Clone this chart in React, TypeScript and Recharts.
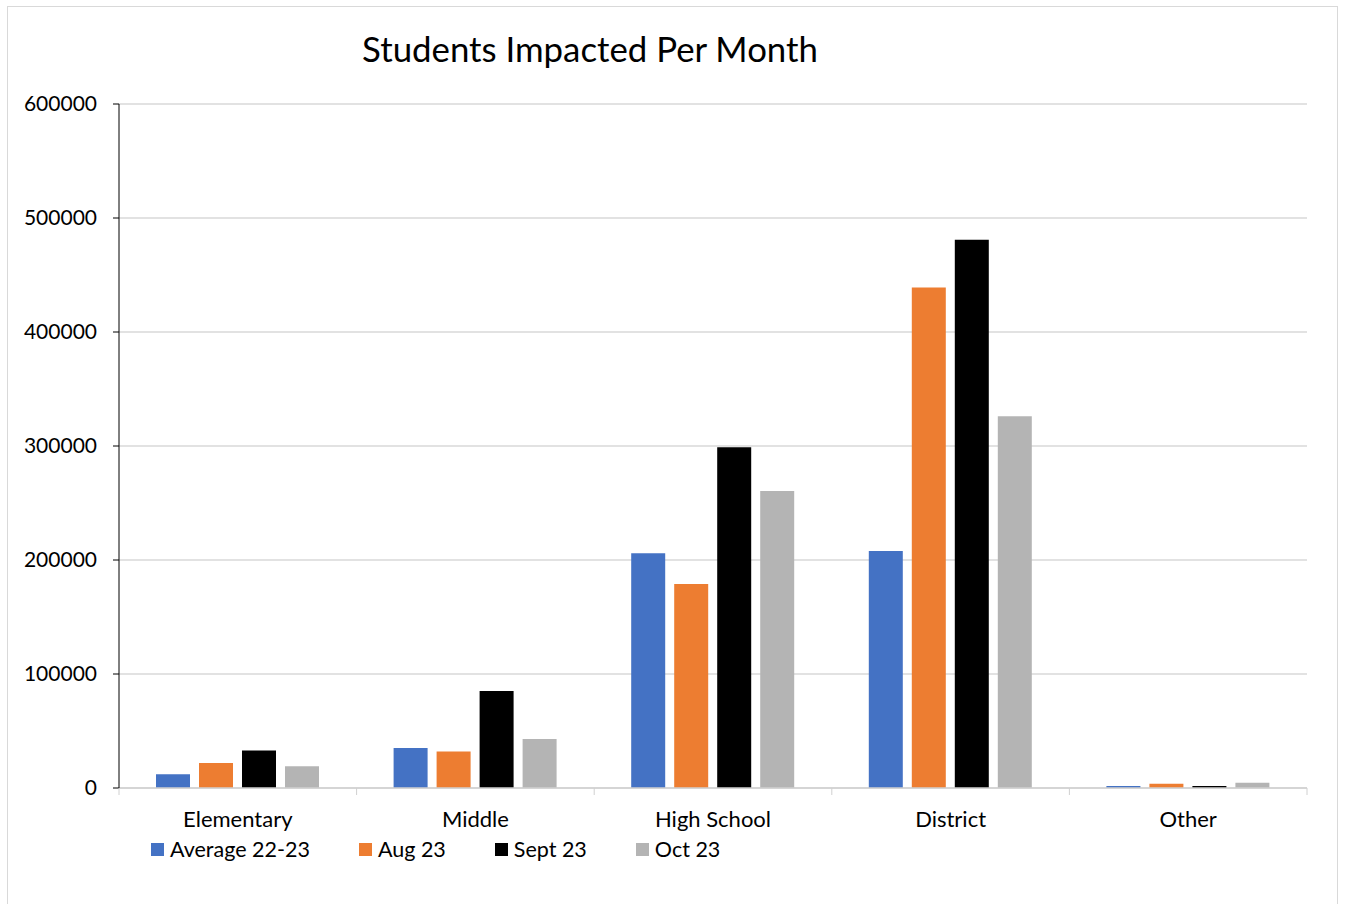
import { Bar, BarChart, CartesianGrid, Legend, XAxis, YAxis } from "recharts";

const categories = ["Elementary", "Middle", "High School", "District", "Other"];
const average2223 = [12000, 35000, 206000, 208000, 1800];
const aug23 = [22000, 32000, 179000, 439000, 3800];
const sept23 = [33000, 85000, 299000, 481000, 1800];
const oct23 = [19000, 43000, 260500, 326000, 4700];
const yTicks = [0, 100000, 200000, 300000, 400000, 500000, 600000];

const seriesList = [
  { key: "avg", name: "Average 22-23", color: "#4472C4", values: average2223 },
  { key: "aug", name: "Aug 23", color: "#ED7D31", values: aug23 },
  { key: "sept", name: "Sept 23", color: "#000000", values: sept23 },
  { key: "oct", name: "Oct 23", color: "#B4B4B4", values: oct23 }
];

const data = categories.map((name, i) => {
  const row: Record<string, number | string> = { name };
  seriesList.forEach((s) => {
    row[s.key] = s.values[i];
  });
  return row;
});

const FONT = "Lato, 'Open Sans', sans-serif";
const CHART_W = 1329;
const CHART_H = 896;
const X_HEIGHT = 50;
const MARGIN = { top: 97, right: 30, bottom: 115 - X_HEIGHT, left: 0 };
const Y_WIDTH = 111;
const band = (CHART_W - MARGIN.left - MARGIN.right - Y_WIDTH) / categories.length;

function CategoryTick(props: any) {
  const { x, y, payload, index } = props;
  const half = band / 2;
  return (
    <g>
      <line x1={x - half} x2={x - half} y1={y} y2={y + 7} stroke="#d0d0d0" />
      {index === categories.length - 1 ? (
        <line x1={x + half} x2={x + half} y1={y} y2={y + 7} stroke="#d0d0d0" />
      ) : null}
      <text x={x} y={y + 39} textAnchor="middle" fontSize={22} fontFamily={FONT} fill="#000">
        {payload.value}
      </text>
    </g>
  );
}

function LegendContent() {
  return (
    <div style={{ display: "flex", gap: 49, fontFamily: FONT, fontSize: 21.5, color: "#000" }}>
      {seriesList.map((s) => (
        <div key={s.key} style={{ display: "flex", alignItems: "center", gap: 6 }}>
          <span style={{ width: 13, height: 13, background: s.color, display: "inline-block" }} />
          <span>{s.name}</span>
        </div>
      ))}
    </div>
  );
}

export default function App() {
  return (
    <div
      style={{
        position: "absolute",
        left: 7,
        top: 6,
        width: CHART_W,
        height: 910,
        border: "1px solid #d9d9d9",
        background: "#fff"
      }}
    >
      <div
        style={{
          position: "absolute",
          left: 582,
          top: 41,
          transform: "translate(-50%, -50%)",
          whiteSpace: "nowrap",
          fontFamily: FONT,
          fontSize: 34.8,
          color: "#000"
        }}
      >
        Students Impacted Per Month
      </div>
      <BarChart
        width={CHART_W}
        height={CHART_H}
        data={data}
        margin={MARGIN}
        barCategoryGap={37}
        barGap={9}
      >
        <CartesianGrid horizontal vertical={false} stroke="#d9d9d9" strokeWidth={1.5} />
        <XAxis
          dataKey="name"
          axisLine={{ stroke: "#d0d0d0", strokeWidth: 1.5 }}
          tickLine={false}
          tickSize={0}
          tickMargin={0}
          height={X_HEIGHT}
          interval={0}
          tick={<CategoryTick />}
        />
        <YAxis
          width={Y_WIDTH}
          domain={[0, 600000]}
          ticks={yTicks}
          interval={0}
          axisLine={{ stroke: "#000" }}
          tickLine={{ stroke: "#000" }}
          tickSize={6}
          tickMargin={16}
          tick={{ fill: "#000", fontSize: 21, fontFamily: FONT }}
        />
        <Legend
          layout="horizontal"
          verticalAlign="middle"
          align="center"
          content={<LegendContent />}
          wrapperStyle={{ top: 829, left: 143, width: "auto" }}
        />
        {seriesList.map((s) => (
          <Bar
            key={s.key}
            dataKey={s.key}
            name={s.name}
            fill={s.color}
            isAnimationActive={false}
          />
        ))}
      </BarChart>
    </div>
  );
}
